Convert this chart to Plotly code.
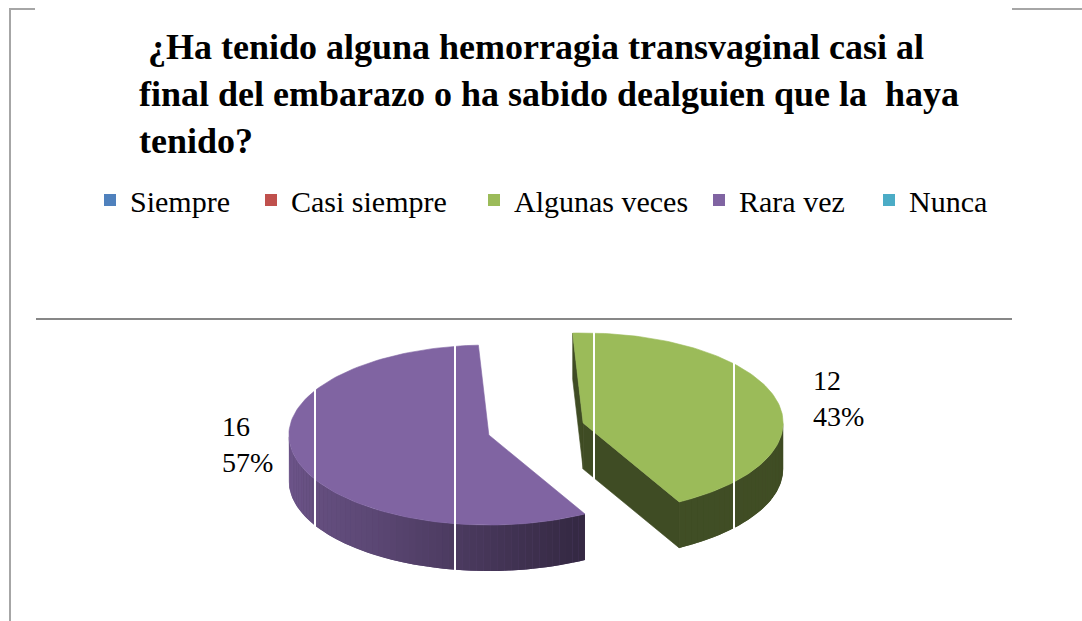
import numpy as np
import plotly.graph_objects as go

# ---------------- data ----------------
categories = ["Siempre", "Casi siempre", "Algunas veces", "Rara vez", "Nunca"]
values = [0, 0, 12, 16, 0]
colors = ["#4F81BD", "#C0504D", "#9BBB59", "#8064A2", "#4BACC6"]
title_lines = ["\u00a0¿Ha tenido alguna hemorragia transvaginal casi al",
               "final del embarazo o ha sabido dealguien que la\u00a0\u00a0haya",
               "tenido?"]

# ---------------- geometry / style ----------------
W, H = 1082, 621
CX, CY = 536, 429          # pie centre (pixel-like axis units)
A, B = 200, 90             # ellipse semi-axes of the tilted pie
DEPTH = 46                 # thickness of the 3-D pie
PULL = 0.245               # explosion
ROT = -3                   # start angle (deg, clockwise from 12 o'clock)
FONT = "Liberation Serif"


def hex2rgb(h):
    h = h.lstrip("#")
    return [int(h[i:i + 2], 16) for i in (0, 2, 4)]


def shade(hexcol, f):
    r, g, b = hex2rgb(hexcol)
    return "rgb(%d,%d,%d)" % (r * f, g * f, b * f)


def shade_factor(theta):
    # lighting of the outer wall as a function of angle (left is lighter)
    return float(np.interp(theta, [90, 155, 215, 270], [0.41, 0.42, 0.72, 0.88]))


def rim(cx, cy, th):
    t = np.radians(th)
    return cx + A * np.sin(t), cy - B * np.cos(t)


fig = go.Figure()


def poly(xs, ys, color, lw=0.6):
    fig.add_trace(go.Scatter(
        x=list(xs) + [xs[0]], y=list(ys) + [ys[0]], mode="lines",
        fill="toself", fillcolor=color,
        line=dict(color=color, width=lw),
        hoverinfo="skip", showlegend=False))


total = sum(values)
start = ROT
label_specs = []
for cat, v, col in zip(categories, values, colors):
    if v <= 0:
        continue
    th1 = start
    th2 = start + 360.0 * v / total
    start = th2
    mid = 0.5 * (th1 + th2)
    px = CX + PULL * A * np.sin(np.radians(mid))
    py = CY - PULL * B * np.cos(np.radians(mid))

    # radial cut faces (visible if their normal points to the front)
    for edge, normal in ((th1, th1 - 90), (th2, th2 + 90)):
        if np.cos(np.radians(normal - 180)) > -0.02:
            rx, ry = rim(px, py, edge)
            poly([px, rx, rx, px], [py, ry, ry + DEPTH, py + DEPTH],
                 shade(col, 0.41))

    # outer wall (front half only): base then shaded strips
    lo, hi = max(th1, 90), min(th2, 270)
    if hi > lo:
        ts = np.linspace(lo, hi, 120)
        xs, ys = rim(px, py, ts)
        poly(list(xs) + list(xs[::-1]), list(ys) + list(ys[::-1] + DEPTH),
             shade(col, shade_factor(0.5 * (lo + hi))), lw=0)
        n = max(2, int((hi - lo) / 2))
        edges = np.linspace(lo, hi, n + 1)
        for a0, a1 in zip(edges[:-1], edges[1:]):
            ts = np.linspace(a0, a1, 4)
            xs, ys = rim(px, py, ts)
            poly(list(xs) + list(xs[::-1]),
                 list(ys) + list(ys[::-1] + DEPTH),
                 shade(col, shade_factor(0.5 * (a0 + a1))), lw=0)

    # top face
    ts = np.linspace(th1, th2, 120)
    xs, ys = rim(px, py, ts)
    poly([px] + list(xs), [py] + list(ys), col)

    # data label (outside end)
    s, c = np.sin(np.radians(mid)), np.cos(np.radians(mid))
    lx = px + 1.29 * A * s + 7
    ly = py - B * c - (15 if s < 0 else 0)
    pct = round(100.0 * v / total)
    label_specs.append((lx, ly, f"{v}<br>{pct}%"))

# legend entries: one legend per item so they sit where the original has them
legend_text_x = [131, 292, 515, 740, 910]
for i, (cat, col) in enumerate(zip(categories, colors)):
    fig.add_trace(go.Scatter(
        x=[None], y=[None], mode="markers", name=cat,
        marker=dict(symbol="square", size=12, color=col),
        legend="legend" if i == 0 else f"legend{i + 1}",
        showlegend=True))

legends = {}
for i, tx in enumerate(legend_text_x):
    key = "legend" if i == 0 else f"legend{i + 1}"
    legends[key] = dict(
        x=(tx - 41) / W, xanchor="left", y=1 - 200 / H, yanchor="middle",
        font=dict(family=FONT, size=30, color="#000000"),
        bgcolor="rgba(0,0,0,0)", borderwidth=0, orientation="h",
        itemclick=False, itemdoubleclick=False)

annotations = [dict(
    x=137, y=25, xref="x", yref="y", xanchor="left", yanchor="top",
    align="left", showarrow=False,
    text="<b>" + "<br>".join(title_lines) + "</b>",
    font=dict(family=FONT, size=36, color="#000000"))]
for lx, ly, t in label_specs:
    annotations.append(dict(
        x=lx, y=ly, xref="x", yref="y", xanchor="center", yanchor="middle",
        align="left", showarrow=False, text=t,
        font=dict(family=FONT, size=28, color="#000000")))

shapes = []
grey = "#a6a6a6"
for (x0, y0, x1, y1, c) in [(10, 9, 10, 621, grey), (9, 9, 35, 9, grey),
                            (1012, 9, 1082, 9, grey),
                            (36, 319, 1012, 319, "#878787")]:
    shapes.append(dict(type="line", xref="x", yref="y", x0=x0, y0=y0,
                       x1=x1, y1=y1, line=dict(color=c, width=2)))
# thin white seams across the pie, as in the original scan
for sx in (315, 455, 594, 734):
    shapes.append(dict(type="line", xref="x", yref="y", x0=sx, x1=sx,
                       y0=330, y1=585, line=dict(color="#ffffff", width=2)))

fig.update_layout(
    width=W, height=H, margin=dict(l=0, r=0, t=0, b=0),
    paper_bgcolor="#ffffff", plot_bgcolor="#ffffff",
    xaxis=dict(range=[0, W], visible=False, fixedrange=True, domain=[0, 1]),
    yaxis=dict(range=[H, 0], visible=False, fixedrange=True, domain=[0, 1]),
    annotations=annotations, shapes=shapes, **legends)

fig.write_html("out.html", config={"displayModeBar": False},
               post_script="document.body.style.margin='0';")
